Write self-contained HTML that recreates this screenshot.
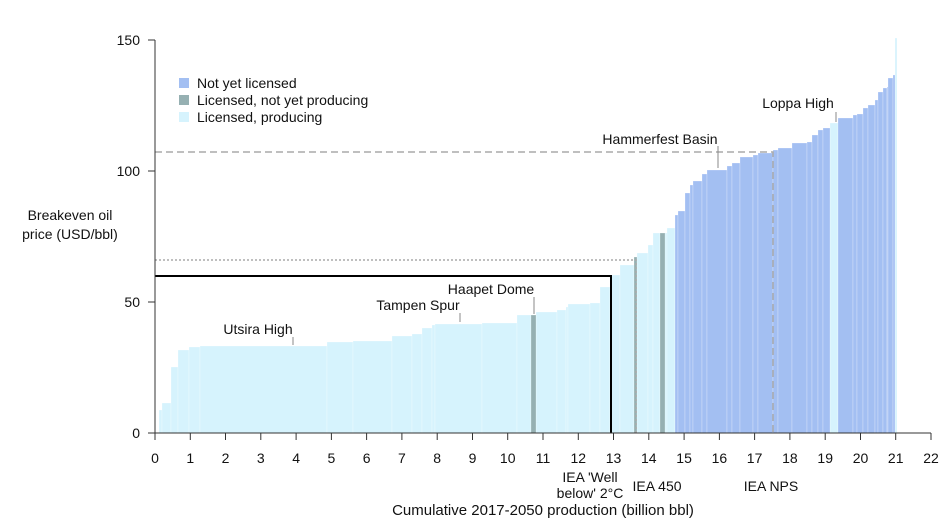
<!DOCTYPE html>
<html><head><meta charset="utf-8"><style>
body{margin:0;background:#fff;}
svg{display:block;font-family:"Liberation Sans",sans-serif;}
</style></head><body>
<svg width="940" height="529" viewBox="0 0 940 529" xmlns="http://www.w3.org/2000/svg">
<g id="bars" stroke="#fff" stroke-width="0.4" stroke-opacity="0.6">
<g fill="#d6f3fd">
<rect x="159" y="410" width="3" height="23"/>
<rect x="162" y="403" width="9" height="30"/>
<rect x="171" y="367" width="7" height="66"/>
<rect x="178" y="350" width="11" height="83"/>
<rect x="189" y="347" width="11" height="86"/>
<rect x="200" y="346" width="127" height="87"/>
<rect x="327" y="342" width="26" height="91"/>
<rect x="353" y="341" width="39" height="92"/>
<rect x="392" y="336" width="20" height="97"/>
<rect x="412" y="334" width="10" height="99"/>
<rect x="422" y="328" width="10" height="105"/>
<rect x="432" y="325" width="3" height="108"/>
<rect x="435" y="324" width="47" height="109"/>
<rect x="482" y="323" width="35" height="110"/>
<rect x="517" y="315" width="14" height="118"/>
<rect x="536" y="312" width="21" height="121"/>
<rect x="557" y="310" width="9" height="123"/>
<rect x="566" y="307" width="2" height="126"/>
<rect x="568" y="304" width="22" height="129"/>
<rect x="590" y="303" width="10" height="130"/>
<rect x="600" y="287" width="10" height="146"/>
<rect x="610" y="275" width="10" height="158"/>
<rect x="620" y="265" width="14" height="168"/>
<rect x="637" y="253" width="11" height="180"/>
<rect x="648" y="245" width="5" height="188"/>
<rect x="653" y="233" width="7" height="200"/>
<rect x="665" y="233" width="2" height="200"/>
<rect x="667" y="228" width="8" height="205"/>
<rect x="830" y="123" width="8" height="310"/>
<rect x="895" y="38" width="2" height="395"/>
</g>
<g fill="#96b0b2">
<rect x="531" y="315" width="5" height="118"/>
<rect x="634" y="257" width="3" height="176"/>
<rect x="660" y="233" width="5" height="200"/>
</g>
<g fill="#a3bff2">
<rect x="675" y="215" width="3" height="218"/>
<rect x="678" y="211" width="7" height="222"/>
<rect x="685" y="193" width="5" height="240"/>
<rect x="690" y="185" width="3" height="248"/>
<rect x="693" y="181" width="9" height="252"/>
<rect x="702" y="174" width="5" height="259"/>
<rect x="707" y="170" width="20" height="263"/>
<rect x="727" y="166" width="5" height="267"/>
<rect x="732" y="163" width="8" height="270"/>
<rect x="740" y="157" width="13" height="276"/>
<rect x="753" y="155" width="5" height="278"/>
<rect x="758" y="153" width="15" height="280"/>
<rect x="773" y="150" width="5" height="283"/>
<rect x="778" y="148" width="14" height="285"/>
<rect x="792" y="143" width="15" height="290"/>
<rect x="807" y="142" width="5" height="291"/>
<rect x="812" y="135" width="6" height="298"/>
<rect x="818" y="130" width="5" height="303"/>
<rect x="823" y="128" width="7" height="305"/>
<rect x="838" y="118" width="15" height="315"/>
<rect x="853" y="115" width="4" height="318"/>
<rect x="857" y="114" width="6" height="319"/>
<rect x="863" y="108" width="5" height="325"/>
<rect x="868" y="105" width="7" height="328"/>
<rect x="875" y="100" width="3" height="333"/>
<rect x="878" y="92" width="5" height="341"/>
<rect x="883" y="88" width="4" height="345"/>
<rect x="887" y="87" width="1" height="346"/>
<rect x="888" y="78" width="5" height="355"/>
<rect x="893" y="75" width="2" height="358"/>
</g>
</g>
<polyline points="155,152 773,152 773,433" fill="none" stroke="#aaa" stroke-width="1.5" stroke-dasharray="7,4"/>
<polyline points="155,260 636,260 636,433" fill="none" stroke="#aaa" stroke-width="1.5" stroke-dasharray="2,2"/>
<polyline points="155,276 611,276 611,433" fill="none" stroke="#000" stroke-width="2"/>
<g stroke="#888" stroke-width="1">
<line x1="293" y1="337" x2="293" y2="345"/>
<line x1="460" y1="313" x2="460" y2="322"/>
<line x1="534" y1="297" x2="534" y2="314"/>
<line x1="718" y1="146" x2="718" y2="168"/>
<line x1="836" y1="112" x2="836" y2="122"/>
</g>
<g font-size="14" fill="#111">
<text x="258" y="334" text-anchor="middle">Utsira High</text>
<text x="418" y="310" text-anchor="middle">Tampen Spur</text>
<text x="491" y="294" text-anchor="middle">Haapet Dome</text>
<text x="660" y="144" text-anchor="middle">Hammerfest Basin</text>
<text x="798" y="108" text-anchor="middle">Loppa High</text>
</g>
<g stroke="#333" stroke-width="1">
<line x1="155" y1="40" x2="155" y2="434"/>
<line x1="155" y1="433" x2="931" y2="433"/>
<line x1="148" y1="40" x2="155" y2="40"/>
<line x1="148" y1="171" x2="155" y2="171"/>
<line x1="148" y1="302" x2="155" y2="302"/>
<line x1="148" y1="433" x2="155" y2="433"/>
</g>
<g font-size="14" fill="#111" text-anchor="end">
<text x="140" y="45">150</text>
<text x="140" y="176">100</text>
<text x="140" y="307">50</text>
<text x="140" y="438">0</text>
</g>
<text x="70" y="220" font-size="14" text-anchor="middle" fill="#111">Breakeven oil</text>
<text x="70" y="239" font-size="14" text-anchor="middle" fill="#111">price (USD/bbl)</text>
<g font-size="14" fill="#111" text-anchor="middle">
<text x="590" y="482">IEA 'Well</text>
<text x="590" y="498">below' 2°C</text>
<text x="657" y="491">IEA 450</text>
<text x="771" y="491">IEA NPS</text>
<text x="543" y="515" font-size="15">Cumulative 2017-2050 production (billion bbl)</text>
</g>
<rect x="179" y="78" width="10" height="10" fill="#a3bff2"/>
<rect x="179" y="95" width="10" height="10" fill="#96b0b2"/>
<rect x="179" y="112" width="10" height="10" fill="#d6f3fd"/>
<g font-size="14" fill="#111">
<text x="197" y="88">Not yet licensed</text>
<text x="197" y="105">Licensed, not yet producing</text>
<text x="197" y="122">Licensed, producing</text>
</g>
<g stroke="#333" stroke-width="1">
<line x1="155.0" y1="433" x2="155.0" y2="440"/><line x1="190.3" y1="433" x2="190.3" y2="440"/><line x1="225.5" y1="433" x2="225.5" y2="440"/><line x1="260.8" y1="433" x2="260.8" y2="440"/><line x1="296.1" y1="433" x2="296.1" y2="440"/><line x1="331.4" y1="433" x2="331.4" y2="440"/><line x1="366.6" y1="433" x2="366.6" y2="440"/><line x1="401.9" y1="433" x2="401.9" y2="440"/><line x1="437.2" y1="433" x2="437.2" y2="440"/><line x1="472.5" y1="433" x2="472.5" y2="440"/><line x1="507.7" y1="433" x2="507.7" y2="440"/><line x1="543.0" y1="433" x2="543.0" y2="440"/><line x1="578.3" y1="433" x2="578.3" y2="440"/><line x1="613.5" y1="433" x2="613.5" y2="440"/><line x1="648.8" y1="433" x2="648.8" y2="440"/><line x1="684.1" y1="433" x2="684.1" y2="440"/><line x1="719.4" y1="433" x2="719.4" y2="440"/><line x1="754.6" y1="433" x2="754.6" y2="440"/><line x1="789.9" y1="433" x2="789.9" y2="440"/><line x1="825.2" y1="433" x2="825.2" y2="440"/><line x1="860.5" y1="433" x2="860.5" y2="440"/><line x1="895.7" y1="433" x2="895.7" y2="440"/><line x1="931.0" y1="433" x2="931.0" y2="440"/>
</g>
<g font-size="14" fill="#111" text-anchor="middle">
<text x="155.0" y="463">0</text><text x="190.3" y="463">1</text><text x="225.5" y="463">2</text><text x="260.8" y="463">3</text><text x="296.1" y="463">4</text><text x="331.4" y="463">5</text><text x="366.6" y="463">6</text><text x="401.9" y="463">7</text><text x="437.2" y="463">8</text><text x="472.5" y="463">9</text><text x="507.7" y="463">10</text><text x="543.0" y="463">11</text><text x="578.3" y="463">12</text><text x="613.5" y="463">13</text><text x="648.8" y="463">14</text><text x="684.1" y="463">15</text><text x="719.4" y="463">16</text><text x="754.6" y="463">17</text><text x="789.9" y="463">18</text><text x="825.2" y="463">19</text><text x="860.5" y="463">20</text><text x="895.7" y="463">21</text><text x="931.0" y="463">22</text>
</g>
</svg>
</body></html>
